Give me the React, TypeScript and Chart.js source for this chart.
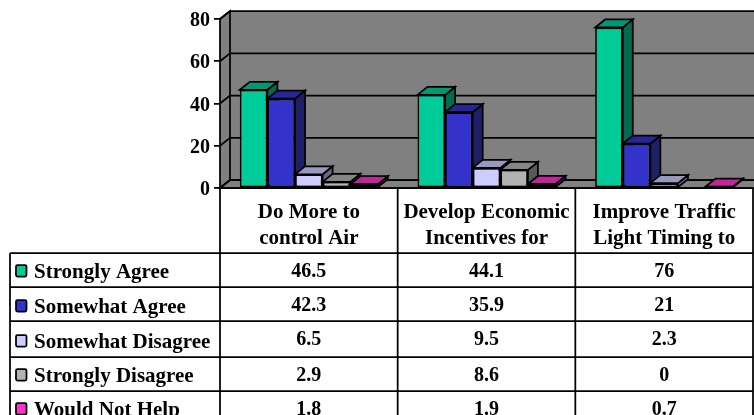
import React, { useEffect, useRef } from "react";
import { Chart, registerables } from "chart.js";

Chart.register(...registerables);

const categories = [
  ["Do More to", "control Air"],
  ["Develop Economic", "Incentives for"],
  ["Improve Traffic", "Light Timing to"],
];
const seriesNames = ["Strongly Agree", "Somewhat Agree", "Somewhat Disagree", "Strongly Disagree", "Would Not Help"];
const stronglyAgree = [46.5, 44.1, 76];
const somewhatAgree = [42.3, 35.9, 21];
const somewhatDisagree = [6.5, 9.5, 2.3];
const stronglyDisagree = [2.9, 8.6, 0];
const wouldNotHelp = [1.8, 1.9, 0.7];
const seriesValues = [stronglyAgree, somewhatAgree, somewhatDisagree, stronglyDisagree, wouldNotHelp];
const frontColors = ["#00CC99", "#3333CC", "#CCCCFF", "#B2B2B2", "#FF33CC"];
const topColors = ["#009973", "#262699", "#9999BF", "#858585", "#BF2699"];
const sideColors = ["#006B50", "#1F1F66", "#666680", "#595959", "#801A66"];

const WALL = "#808080";
const DEPTH_X = 10;
const DEPTH_Y = 8;
const LINE = 1.75;
const LEGEND_FONT = 'bold 21px "Liberation Serif"';
const VALUE_FONT = 'bold 20px "Liberation Serif"';
const ROW_LINES = [253, 287, 321, 357, 391];
const LEGEND_BASELINES = [278, 313, 348, 382, 416];
const VALUE_BASELINES = [277, 311, 345, 381, 415];

function poly(ctx: CanvasRenderingContext2D, pts: number[][], fill: string) {
  ctx.beginPath();
  pts.forEach(([x, y], i) => (i ? ctx.lineTo(x, y) : ctx.moveTo(x, y)));
  ctx.closePath();
  ctx.fillStyle = fill;
  ctx.fill();
  ctx.lineWidth = LINE;
  ctx.strokeStyle = "#000";
  ctx.stroke();
}

// Back wall, left wall, floor and gridlines, then the bars painted left to right
// so every bar's front and top cover the side face of its left neighbour.
const sceneryPlugin = {
  id: "scenery",
  beforeDatasetsDraw(chart: any) {
    const { ctx, chartArea: a, scales } = chart;
    const w = chart.width + 5;
    ctx.save();
    ctx.fillStyle = WALL;
    ctx.fillRect(a.left + DEPTH_X, a.top - DEPTH_Y, w, a.bottom - a.top);
    ctx.strokeStyle = "#000";
    ctx.lineWidth = LINE;
    poly(ctx, [[a.left, a.top], [a.left + DEPTH_X, a.top - DEPTH_Y], [a.left + DEPTH_X, a.bottom - DEPTH_Y], [a.left, a.bottom]], WALL);
    poly(ctx, [[a.left, a.bottom], [a.left + DEPTH_X, a.bottom - DEPTH_Y], [w, a.bottom - DEPTH_Y], [w, a.bottom]], WALL);
    scales.y.ticks.forEach((t: any) => {
      const y = scales.y.getPixelForValue(t.value);
      ctx.beginPath();
      ctx.moveTo(a.left, y);
      ctx.lineTo(a.left + DEPTH_X, y - DEPTH_Y);
      ctx.lineTo(w, y - DEPTH_Y);
      ctx.stroke();
    });

    chart.data.datasets.forEach((_: any, i: number) => {
      chart.getDatasetMeta(i).data.forEach((bar: any, k: number) => {
        if (!seriesValues[i][k]) return;
        const { x, y, base, width } = bar.getProps(["x", "y", "base", "width"], true);
        const l = x - width / 2;
        const r = x + width / 2;
        poly(ctx, [[r, y], [r + DEPTH_X, y - DEPTH_Y], [r + DEPTH_X, base - DEPTH_Y], [r, base]], sideColors[i]);
        poly(ctx, [[l, y], [l + DEPTH_X, y - DEPTH_Y], [r + DEPTH_X, y - DEPTH_Y], [r, y]], topColors[i]);
        bar.draw(ctx);
      });
    });
    ctx.restore();
    return false;
  },
};

// Data table under the plot: grid, legend keys, series names and values.
const tablePlugin = {
  id: "dataTable",
  afterDraw(chart: any) {
    const { ctx, chartArea: a, scales } = chart;
    const h = chart.height;
    const left = 10;
    ctx.save();
    ctx.strokeStyle = "#000";
    ctx.lineWidth = LINE;
    const seg = (x1: number, y1: number, x2: number, y2: number) => {
      ctx.beginPath();
      ctx.moveTo(x1, y1);
      ctx.lineTo(x2, y2);
      ctx.stroke();
    };
    seg(a.left, a.bottom, a.right, a.bottom);
    seg(a.left, a.bottom, a.left, h);
    seg(left, ROW_LINES[0], left, h);
    ROW_LINES.forEach((y) => seg(left, y, a.right, y));
    const step = (a.right - a.left) / categories.length;
    for (let c = 1; c <= categories.length; c++) seg(a.left + step * c, a.bottom, a.left + step * c, h);

    ctx.textBaseline = "alphabetic";
    seriesNames.forEach((name, i) => {
      const top = LEGEND_BASELINES[i] - 13;
      ctx.beginPath();
      ctx.roundRect(16, top, 10.5, 11.5, 1.5);
      ctx.fillStyle = frontColors[i];
      ctx.fill();
      ctx.stroke();
      ctx.fillStyle = "#000";
      ctx.textAlign = "left";
      ctx.font = LEGEND_FONT;
      ctx.fillText(name, 34, LEGEND_BASELINES[i]);
      ctx.textAlign = "center";
      ctx.font = VALUE_FONT;
      seriesValues[i].forEach((v, k) => {
        ctx.fillText(String(v), scales.x.getPixelForTick(k), VALUE_BASELINES[i]);
      });
    });
    ctx.restore();
  },
};

export default function App() {
  const ref = useRef<HTMLCanvasElement>(null);
  useEffect(() => {
    const chart = new Chart(ref.current!, {
      type: "bar",
      data: {
        labels: categories,
        datasets: seriesNames.map((label, i) => ({
          label,
          data: seriesValues[i],
          backgroundColor: frontColors[i],
          borderColor: "#000",
          borderWidth: LINE,
          borderSkipped: false,
          categoryPercentage: 0.777,
          barPercentage: 1,
        })),
      },
      options: {
        animation: false,
        responsive: false,
        layout: { padding: { top: 19, right: 1, left: 0, bottom: 0 } },
        plugins: { legend: { display: false }, tooltip: { enabled: false } },
        scales: {
          x: {
            afterFit: (s: any) => { s.height = 227; },
            grid: { display: false },
            border: { display: false },
            ticks: {
              autoSkip: false,
              maxRotation: 0,
              minRotation: 0,
              padding: 4,
              color: "#000",
              font: { family: "Liberation Serif", size: 21, weight: "bold", lineHeight: 1.24 },
            },
          },
          y: {
            min: 0,
            max: 80,
            afterFit: (s: any) => { s.width = 220; },
            border: { display: false },
            grid: { drawOnChartArea: false, drawTicks: true, tickLength: 6, color: "#000", lineWidth: LINE },
            ticks: {
              stepSize: 20,
              padding: 4,
              labelOffset: 2,
              color: "#000",
              font: { family: "Liberation Serif", size: 20, weight: "bold" },
            },
          },
        },
      },
      plugins: [sceneryPlugin, tablePlugin],
    } as any);
    return () => chart.destroy();
  }, []);
  return (
    <div style={{ position: "fixed", left: 0, top: 0, width: 754, height: 415, background: "#fff" }}>
      <canvas ref={ref} width={754} height={415} style={{ display: "block" }} />
    </div>
  );
}
